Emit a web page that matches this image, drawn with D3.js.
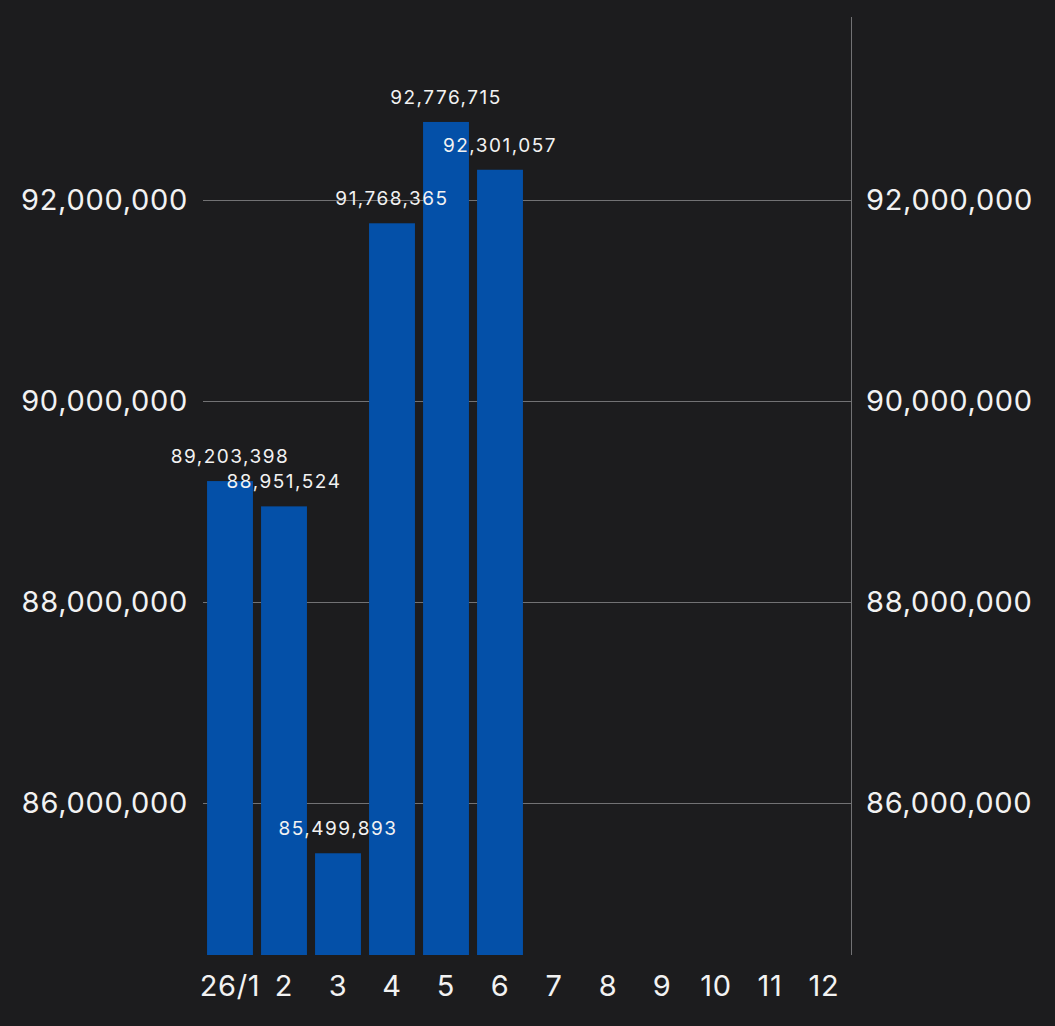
<!DOCTYPE html>
<html lang="en">
<head>
    <meta charset="UTF-8">
    <title>Bar chart</title>
    <script src="https://d3js.org/d3.v7.min.js"></script>
    <style>
        html, body { margin: 0; padding: 0; background: #1c1c1e; }
        svg { display: block; }
    </style>
</head>
<body>
    <div id="chart"></div>
    <script>
        // data
        const categories = ['26/1', '2', '3', '4', '5', '6', '7', '8', '9', '10', '11', '12'];
        const values = [89203398, 88951524, 85499893, 91768365, 92776715, 92301057];
        const yTicks = [86000000, 88000000, 90000000, 92000000];

        const width = 1055, height = 1026;
        const margin = { top: 17, right: 204, bottom: 71, left: 203 };
        const fontFamily = "Inter, 'Noto Sans', sans-serif";
        const axisFont = '29px';
        const axisSpacing = '0.7px';

        const svg = d3.select('#chart').append('svg')
            .attr('width', width)
            .attr('height', height);

        svg.append('rect').attr('width', width).attr('height', height).attr('fill', '#1c1c1e');

        const x = d3.scaleBand()
            .domain(categories)
            .range([margin.left, width - margin.right])
            .paddingInner(0.15)
            .paddingOuter(0.075);

        const y = d3.scaleLinear()
            .domain([84487600, 93821000])
            .range([height - margin.bottom, margin.top]);

        const fmt = d3.format(',');

        // gridlines
        svg.append('g')
            .selectAll('line')
            .data(yTicks)
            .join('line')
            .attr('x1', margin.left)
            .attr('x2', width - margin.right)
            .attr('y1', d => Math.round(y(d)) + 0.5)
            .attr('y2', d => Math.round(y(d)) + 0.5)
            .attr('stroke', '#727274')
            .attr('stroke-width', 1);

        // right vertical line
        svg.append('line')
            .attr('x1', width - margin.right + 0.5)
            .attr('x2', width - margin.right + 0.5)
            .attr('y1', margin.top)
            .attr('y2', height - margin.bottom)
            .attr('stroke', '#727274');

        // bars
        svg.append('g')
            .selectAll('rect')
            .data(values)
            .join('rect')
            .attr('x', (d, i) => x(categories[i]))
            .attr('y', d => y(d))
            .attr('width', x.bandwidth())
            .attr('height', d => y.range()[0] - y(d))
            .attr('fill', '#0450a8');

        // value labels
        svg.append('g')
            .selectAll('text')
            .data(values)
            .join('text')
            .text(d => fmt(d))
            .attr('x', (d, i) => x(categories[i]) + x.bandwidth() / 2)
            .attr('y', d => y(d) - 18)
            .attr('text-anchor', 'middle')
            .attr('fill', '#f2f2f2')
            .attr('font-size', '19px')
            .attr('letter-spacing', '1.5px')
            .attr('font-family', fontFamily);

        // y axis labels, left and right
        const yLabels = svg.append('g')
            .attr('font-family', fontFamily)
            .attr('font-size', axisFont)
            .attr('letter-spacing', axisSpacing)
            .attr('fill', '#f2f2f2');

        yLabels.selectAll('text.left')
            .data(yTicks)
            .join('text')
            .classed('left', true)
            .text(d => fmt(d))
            .attr('x', 188)
            .attr('y', d => y(d))
            .attr('dy', '0.35em')
            .attr('text-anchor', 'end');

        yLabels.selectAll('text.right')
            .data(yTicks)
            .join('text')
            .classed('right', true)
            .text(d => fmt(d))
            .attr('x', 866)
            .attr('y', d => y(d))
            .attr('dy', '0.35em')
            .attr('text-anchor', 'start');

        // x axis labels
        svg.append('g')
            .selectAll('text')
            .data(categories)
            .join('text')
            .text(d => d)
            .attr('x', d => x(d) + x.bandwidth() / 2)
            .attr('y', 996)
            .attr('text-anchor', 'middle')
            .attr('fill', '#f2f2f2')
            .attr('font-size', axisFont)
            .attr('letter-spacing', axisSpacing)
            .attr('font-family', fontFamily);
    </script>
</body>
</html>
